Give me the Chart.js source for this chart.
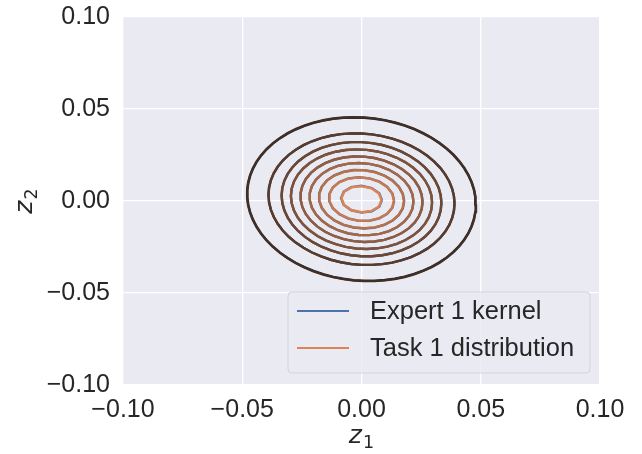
<!DOCTYPE html>
<html>
<head>
<meta charset="utf-8">
<script src="https://cdn.jsdelivr.net/npm/chart.js@4/dist/chart.umd.min.js"></script>
<style>
  html, body { margin: 0; padding: 0; background: #ffffff; }
  #wrap { width: 642px; height: 454px; position: relative; }
</style>
</head>
<body>
<div id="wrap"><canvas id="c" width="642" height="454"></canvas></div>
<script>
// ---- data ----
const seriesNames = ["Expert 1 kernel", "Task 1 distribution"];
const seriesColors = ["#4C72B0", "#DD8452"];
const tickValues = [-0.10, -0.05, 0.00, 0.05, 0.10];
const axisMin = -0.10;
const axisMax = 0.10;
// contour ellipses (innermost -> outermost), half-extent along z1 and z2
const kernelHalfWidthZ1  = [0.0086, 0.0137, 0.0179, 0.0218, 0.0256, 0.0296, 0.0335, 0.0390, 0.0479];
const kernelHalfHeightZ2 = [0.0073, 0.0119, 0.0159, 0.0196, 0.0232, 0.0270, 0.0310, 0.0357, 0.0443];
const taskHalfWidthZ1    = [0.0084, 0.0136, 0.0178, 0.0218, 0.0256, 0.0296, 0.0335, 0.0390, 0.0480];
const taskHalfHeightZ2   = [0.0071, 0.0118, 0.0158, 0.0196, 0.0232, 0.0270, 0.0310, 0.0357, 0.0445];
const contourCenterZ1 = 0.0000;
const contourCenterZ2 = 0.0010;
const contourTilt = -0.06;   // z2 shift per unit z1 (slight negative correlation)

// ---- helpers ----
function hexToRgb(h){ h=h.replace('#',''); return [parseInt(h.substr(0,2),16),parseInt(h.substr(2,2),16),parseInt(h.substr(4,2),16)]; }
function darkFor(hex){ const c = hexToRgb(hex); const m = (c[0]+c[1]+c[2])/3; return c.map(v => Math.round(32 + (v - m) * 0.05)); }
function shade(hex, t){ const a = darkFor(hex), b = hexToRgb(hex); t = Math.pow(t, 0.85); return 'rgb(' + a.map((v,i)=>Math.round(v + (b[i]-v)*t)).join(',') + ')'; }

function contourPoints(rx, ry){
  const n = Math.max(10, Math.round(2*Math.PI*(rx+ry)/2/0.0042));
  const pts = [];
  for (let k = 0; k <= n; k++){
    const t = 2*Math.PI*k/n;
    const dx = rx*Math.cos(t);
    const dy = ry*Math.sin(t) + contourTilt*dx;
    pts.push({x: contourCenterZ1 + dx, y: contourCenterZ2 + dy});
  }
  return pts;
}

const datasets = [];
const groups = [[kernelHalfWidthZ1, kernelHalfHeightZ2], [taskHalfWidthZ1, taskHalfHeightZ2]];
groups.forEach((g, s) => {
  const nLev = g[0].length;
  for (let i = 0; i < nLev; i++){
    const t = (nLev - i) / nLev; // innermost brightest
    datasets.push({
      label: seriesNames[s],
      data: contourPoints(g[0][i], g[1][i]),
      order: groups.length - s,   // later series drawn on top
      showLine: true, fill: false, tension: 0,
      borderColor: shade(seriesColors[s], t),
      borderWidth: 2.4, pointRadius: 0, pointHoverRadius: 0
    });
  }
});

const FONT = "'Liberation Sans', Arial, sans-serif";
const TEXT = '#262626';

const bgPlugin = {
  id: 'bg',
  beforeDraw(chart){
    const a = chart.chartArea, ctx = chart.ctx;
    ctx.save(); ctx.fillStyle = '#EAEAF2';
    ctx.fillRect(a.left, a.top, a.right - a.left, a.bottom - a.top);
    ctx.restore();
  }
};

function drawMath(ctx, sub, x, y, rot){
  ctx.save();
  ctx.translate(x, y); ctx.rotate(rot);
  ctx.fillStyle = TEXT;
  ctx.textBaseline = 'alphabetic';
  ctx.font = "oblique 25px 'DejaVu Sans'";
  const w1 = ctx.measureText('z').width;
  ctx.font = "17.5px 'DejaVu Sans'";
  const w2 = ctx.measureText(sub).width;
  const total = w1 + w2 + 1;
  ctx.font = "oblique 25px 'DejaVu Sans'";
  ctx.textAlign = 'left';
  ctx.fillText('z', -total/2, 0);
  ctx.font = "17.5px 'DejaVu Sans'";
  ctx.fillText(sub, -total/2 + w1 + 1, 5);
  ctx.restore();
}

const overlayPlugin = {
  id: 'overlay',
  afterDraw(chart){
    const ctx = chart.ctx, a = chart.chartArea;
    // axis labels
    drawMath(ctx, '1', (a.left + a.right)/2, 443, 0);
    drawMath(ctx, '2', 32, (a.top + a.bottom)/2, -Math.PI/2);
    // legend
    const bw = 302, bh = 81;
    const bx = a.right - 10 - bw, by = a.bottom - 12 - bh;
    ctx.save();
    ctx.beginPath();
    if (ctx.roundRect) ctx.roundRect(bx, by, bw, bh, 4); else ctx.rect(bx, by, bw, bh);
    ctx.fillStyle = 'rgba(234,234,242,0.8)';
    ctx.fill();
    ctx.strokeStyle = '#d3d3d9'; ctx.lineWidth = 1;
    ctx.stroke();
    ctx.font = '25.5px ' + FONT;
    ctx.textBaseline = 'middle'; ctx.textAlign = 'left';
    seriesNames.forEach((name, i) => {
      const cy = by + 19 + i*37;
      ctx.strokeStyle = seriesColors[i]; ctx.lineWidth = 2;
      ctx.beginPath(); ctx.moveTo(bx + 9, cy); ctx.lineTo(bx + 61, cy); ctx.stroke();
      ctx.fillStyle = TEXT;
      ctx.fillText(name, bx + 82, cy + 1);
    });
    ctx.restore();
  }
};

function fmt(v){ const s = Number(v).toFixed(2); return s.replace('-', '\u2212'); }

new Chart(document.getElementById('c'), {
  type: 'scatter',
  data: { datasets },
  options: {
    responsive: false, animation: false, events: [],
    layout: { padding: { top: 17, right: 42, left: 0, bottom: 0 } },
    plugins: { legend: { display: false }, tooltip: { enabled: false } },
    scales: {
      x: {
        type: 'linear', min: axisMin, max: axisMax,
        afterBuildTicks(s){ s.ticks = tickValues.map(v => ({value: v})); },
        afterFit(s){ s.height = 69; },
        grid: { color: '#ffffff', lineWidth: 1.3, drawTicks: false },
        border: { display: false },
        ticks: { padding: 10, color: TEXT, font: { family: FONT, size: 25 }, callback: fmt, maxRotation: 0 }
      },
      y: {
        type: 'linear', min: axisMin, max: axisMax,
        afterBuildTicks(s){ s.ticks = tickValues.map(v => ({value: v})); },
        afterFit(s){ s.width = 123; s.paddingTop = 0; s.paddingBottom = 0; },
        grid: { color: '#ffffff', lineWidth: 1.3, drawTicks: false },
        border: { display: false },
        ticks: { padding: 13, color: TEXT, font: { family: FONT, size: 25, lineHeight: 0.8 }, callback: fmt }
      }
    }
  },
  plugins: [bgPlugin, overlayPlugin]
});
</script>
</body>
</html>
